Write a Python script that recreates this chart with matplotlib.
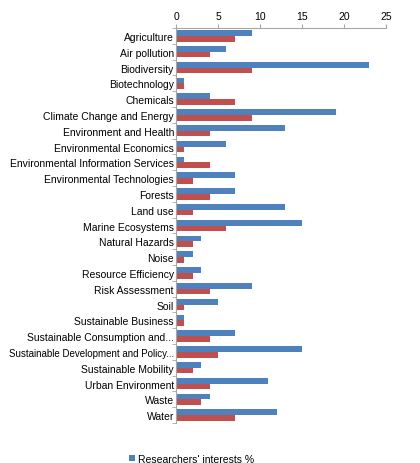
import numpy as np
import matplotlib
matplotlib.use("Agg")
import matplotlib.pyplot as plt

plt.rcParams["font.family"] = ["Liberation Sans", "DejaVu Sans"]

# categories, top to bottom
categorias = ["Agriculture", "Air pollution", "Biodiversity", "Biotechnology", "Chemicals",
              "Climate Change and Energy", "Environment and Health", "Environmental Economics",
              "Environmental Information Services", "Environmental Technologies", "Forests",
              "Land use", "Marine Ecosystems", "Natural Hazards", "Noise", "Resource Efficiency",
              "Risk Assessment", "Soil", "Sustainable Business", "Sustainable Consumption and...",
              "Sustainable Development and Policy...", "Sustainable Mobility", "Urban Environment",
              "Waste", "Water"]
investigadores = [9, 6, 23, 1, 4, 19, 13, 6, 1, 7, 7, 13, 15, 3, 2, 3, 9, 5, 1, 7, 15, 3, 11, 4, 12]
segunda_serie = [7, 4, 9, 1, 7, 9, 4, 1, 4, 2, 4, 2, 6, 2, 1, 2, 4, 1, 1, 4, 5, 2, 4, 3, 7]
ticks_x = [0, 5, 10, 15, 20, 25]

azul = "#4F81BD"
rojo = "#C0504D"
gris = "#A6A6A6"

fig = plt.figure(figsize=(4.2, 4.64), dpi=100)
ax = fig.add_axes([176 / 420, 1 - 424 / 464, 210 / 420, 395 / 464])

y = np.arange(len(categorias))
h = 0.36
ax.barh(y - h / 2, investigadores, height=h, color=azul, label="Researchers' interests %")
ax.barh(y + h / 2, segunda_serie, height=h, color=rojo)

ax.set_ylim(len(categorias) - 0.5, -0.5)
ax.set_xlim(0, 25)
ax.set_xticks(ticks_x)
ax.xaxis.tick_top()
ax.tick_params(axis="x", labelsize=7.5, length=3, color=gris, pad=2)

ax.set_yticks(y)
ax.set_yticklabels(categorias, fontsize=7.5)
ax.tick_params(axis="y", length=0, pad=1.5)
ax.set_yticks(np.arange(len(categorias) + 1) - 0.5, minor=True)
ax.tick_params(axis="y", which="minor", length=3, color=gris)
# the longest label is squeezed a little so it fits inside the figure
for etiqueta in ax.get_yticklabels():
    if len(etiqueta.get_text()) > 35:
        etiqueta.set_fontsize(7.0)

for lado in ["right", "bottom"]:
    ax.spines[lado].set_visible(False)
ax.spines["top"].set_color(gris)
ax.spines["left"].set_color(gris)

fig.legend(loc="lower left", bbox_to_anchor=(0.285, -0.022), frameon=False, fontsize=7.5,
           handlelength=0.6, handleheight=0.6, handletextpad=0.3)

fig.savefig("out.png", dpi=100)
